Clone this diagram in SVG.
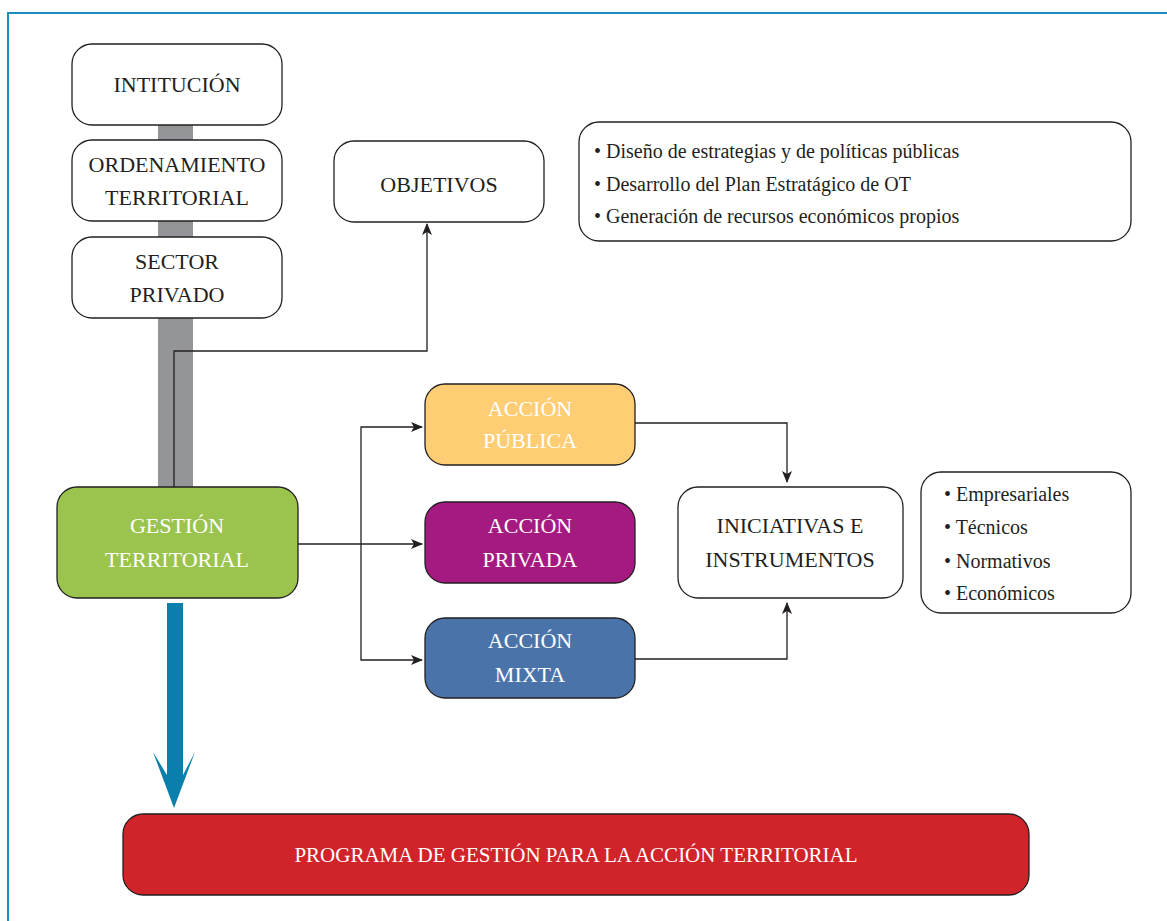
<svg xmlns="http://www.w3.org/2000/svg" width="1167" height="921" viewBox="0 0 1167 921">
<style>
.box{fill:#fff;stroke:#231f20;stroke-width:1.3}
.t{font-family:"Liberation Serif","Times New Roman",serif;font-size:22px;fill:#231f20;text-anchor:middle}
.w{fill:#fff}
.b{font-family:"Liberation Serif","Times New Roman",serif;font-size:20px;fill:#231f20}
.c{fill:none;stroke:#231f20;stroke-width:1.3}
</style>
<defs>
<marker id="ah" viewBox="0 0 12 10" refX="11" refY="5" markerWidth="12" markerHeight="10" markerUnits="userSpaceOnUse" orient="auto">
<path d="M0,0 L12,5 L0,10 L3,5 Z" fill="#231f20"/>
</marker>
</defs>
<rect width="1167" height="921" fill="#fff"/>
<g id="frame" fill="none" stroke="#1b8dc0" stroke-width="2">
<path d="M8,921 V13 H1167"/>
</g>
<rect id="spine" x="158" y="120" width="35" height="370" fill="#939598"/>
<g id="connectors">
<path class="c" d="M174,487 V351 H427 V224" marker-end="url(#ah)"/>
<path class="c" d="M298,544 H422" marker-end="url(#ah)"/>
<path class="c" d="M361,544 V427 H422" marker-end="url(#ah)"/>
<path class="c" d="M361,544 V660 H422" marker-end="url(#ah)"/>
<path class="c" d="M635,423 H787 V482" marker-end="url(#ah)"/>
<path class="c" d="M635,659 H787 V603" marker-end="url(#ah)"/>
<path id="bigarrow" d="M167,603 H183 V775 L195,752 L174,808 L153,752 L167,775 Z" fill="#0a7fab"/>
</g>
<g id="institucion">
<rect class="box" x="72" y="44" width="210" height="81" rx="20"/>
<text class="t" x="177" y="92">INTITUCIÓN</text>
</g>
<g id="ordenamiento">
<rect class="box" x="72" y="140" width="210" height="81" rx="20"/>
<text class="t" x="177" y="172">ORDENAMIENTO</text>
<text class="t" x="177" y="205">TERRITORIAL</text>
</g>
<g id="sector">
<rect class="box" x="72" y="237" width="210" height="81" rx="20"/>
<text class="t" x="177" y="269">SECTOR</text>
<text class="t" x="177" y="302">PRIVADO</text>
</g>
<g id="objetivos">
<rect class="box" x="334" y="141" width="210" height="81" rx="20"/>
<text class="t" x="439" y="192">OBJETIVOS</text>
</g>
<g id="objlist">
<rect class="box" x="579" y="122" width="552" height="119" rx="20"/>
<text class="b" x="594" y="158">• Diseño de estrategias y de políticas públicas</text>
<text class="b" x="594" y="191">• Desarrollo del Plan Estratágico de OT</text>
<text class="b" x="594" y="223">• Generación de recursos económicos propios</text>
</g>
<g id="gestion">
<rect x="57" y="487" width="241" height="111" rx="20" fill="#9bc44f" stroke="#231f20" stroke-width="1.3"/>
<text class="t w" x="177" y="533">GESTIÓN</text>
<text class="t w" x="177" y="567">TERRITORIAL</text>
</g>
<g id="publica">
<rect x="425" y="384" width="210" height="81" rx="20" fill="#fecd74" stroke="#231f20" stroke-width="1.3"/>
<text class="t w" x="530" y="416">ACCIÓN</text>
<text class="t w" x="530" y="448">PÚBLICA</text>
</g>
<g id="privada">
<rect x="425" y="502" width="210" height="81" rx="20" fill="#a51a80" stroke="#231f20" stroke-width="1.3"/>
<text class="t w" x="530" y="533">ACCIÓN</text>
<text class="t w" x="530" y="567">PRIVADA</text>
</g>
<g id="mixta">
<rect x="425" y="618" width="210" height="80" rx="20" fill="#4a74a9" stroke="#231f20" stroke-width="1.3"/>
<text class="t w" x="530" y="648">ACCIÓN</text>
<text class="t w" x="530" y="682">MIXTA</text>
</g>
<g id="iniciativas">
<rect class="box" x="678" y="487" width="225" height="111" rx="20"/>
<text class="t" x="790" y="533">INICIATIVAS E</text>
<text class="t" x="790" y="567">INSTRUMENTOS</text>
</g>
<g id="tipos">
<rect class="box" x="921" y="472" width="210" height="141" rx="20"/>
<text class="b" x="944" y="501">• Empresariales</text>
<text class="b" x="944" y="534">• Técnicos</text>
<text class="b" x="944" y="568">• Normativos</text>
<text class="b" x="944" y="600">• Económicos</text>
</g>
<g id="programa">
<rect x="123" y="814" width="906" height="81" rx="20" fill="#d0232a" stroke="#231f20" stroke-width="1.3"/>
<text class="t w" x="576" y="862" style="font-size:21px">PROGRAMA DE GESTIÓN PARA LA ACCIÓN TERRITORIAL</text>
</g>
</svg>
